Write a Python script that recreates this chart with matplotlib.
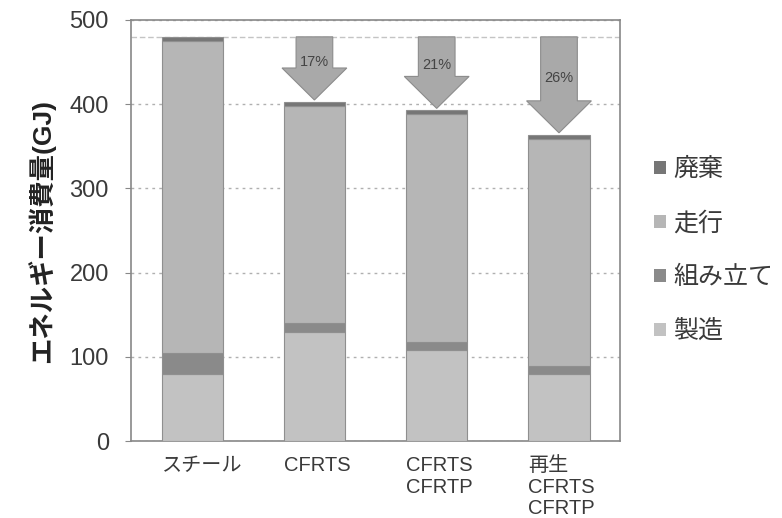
import matplotlib
matplotlib.use("Agg")
import matplotlib.pyplot as plt
from matplotlib.patches import Patch
import numpy as np

plt.rcParams['font.family'] = ['Liberation Sans', 'Noto Sans CJK JP']

# data
categories = ["スチール", "CFRTS", "CFRTS\nCFRTP", "再生\nCFRTS\nCFRTP"]
manufacture = [80, 130, 108, 80]      # 製造
assembly = [24, 10, 10, 9]            # 組み立て
driving = [371, 258, 270, 270]        # 走行
disposal = [5, 5, 5, 5]               # 廃棄
reductions = ["", "17%", "21%", "26%"]
yticks = [0, 100, 200, 300, 400, 500]

series_names = ["製造", "組み立て", "走行", "廃棄"]
series_colors = ["#c2c2c2", "#8a8a8a", "#b6b6b6", "#767676"]

fig = plt.figure(figsize=(7.82, 5.18), dpi=100)
ax = fig.add_axes([0.1675, 0.1486, 0.6255, 0.8128])

x = np.arange(len(categories))
width = 0.5
bottom = np.zeros(len(categories))
for vals, col in zip([manufacture, assembly, driving, disposal], series_colors):
    ax.bar(x, vals, width, bottom=bottom, color=col, edgecolor="#8f8f8f",
           linewidth=0.8, zorder=3)
    bottom += np.array(vals)

totals = bottom
ref = totals[0]

# reference level of the steel body
ax.axhline(ref, color="#c4c4c4", lw=1.0, ls=(0, (4, 2)), zorder=1)

# reduction arrows
shaft_w = 0.30
head_w = 0.53
head_len = 38
label_drop = [0, 30, 34, 49]
for i in range(1, len(categories)):
    top = totals[i] + 2
    ax.arrow(x[i], ref, 0, top - ref, width=shaft_w, head_width=head_w,
             head_length=head_len, length_includes_head=True,
             facecolor="#a9a9a9", edgecolor="#8c8c8c", lw=0.8, zorder=4)
    ax.text(x[i], ref - label_drop[i], reductions[i], ha="center", va="center",
            fontsize=10.5, color="#444444", zorder=5)

ax.set_xlim(-0.5, 3.5)
ax.set_ylim(0, 500)
ax.set_yticks(yticks)
ax.set_yticklabels([str(v) for v in yticks], fontsize=17, color="#3a3a3a")
ax.tick_params(axis="y", length=4, pad=12, color="#888888")
ax.yaxis.grid(True, color="#b0b0b0", ls=(0, (2, 3)), lw=1.0, zorder=0)

ax.set_xticks(x - width / 2)
ax.set_xticklabels(categories, fontsize=14.5, color="#3a3a3a", ha="left",
                   linespacing=1.15)
ax.tick_params(axis="x", length=0, pad=11)

for s in ax.spines.values():
    s.set_color("#888888")
    s.set_linewidth(1.2)

ax.set_ylabel("エネルギー消費量(GJ)", fontsize=19, fontweight="bold",
              color="#222222", labelpad=10)

handles = [Patch(facecolor=c, edgecolor="none") for c in series_colors][::-1]
fig.legend(handles, series_names[::-1], loc="upper left",
           bbox_to_anchor=(0.808, 0.74), frameon=False, fontsize=18,
           handlelength=0.45, handleheight=0.45, handletextpad=0.3,
           labelspacing=1.2, labelcolor="#3a3a3a")

fig.savefig("out.png", dpi=100, facecolor="white")
